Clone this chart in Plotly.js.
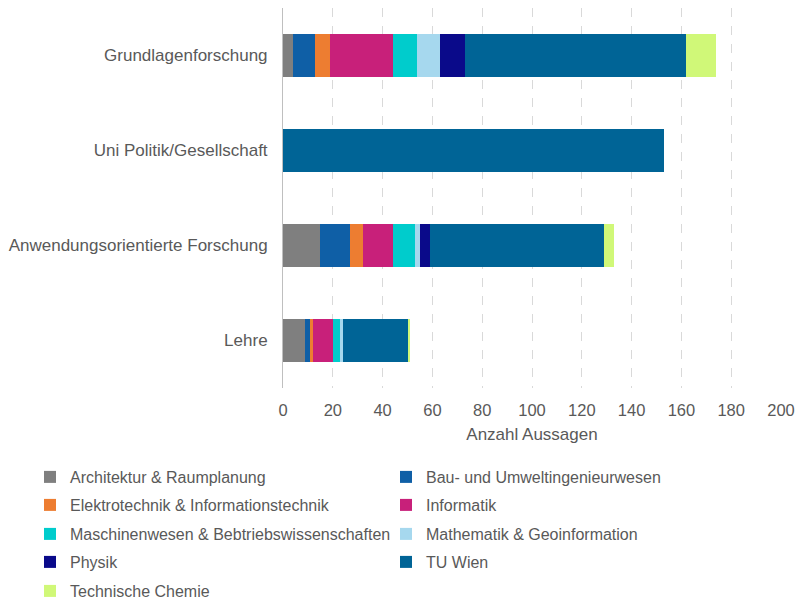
<!DOCTYPE html>
<html>
<head>
<meta charset="utf-8">
<script src="https://cdn.plot.ly/plotly-3.0.1.min.js"></script>
<style>html,body{margin:0;padding:0;background:#fff;}#chart{width:797px;height:601px;}</style>
</head>
<body>
<div id="chart"></div>
<script>
const categories = ["Grundlagenforschung", "Uni Politik/Gesellschaft", "Anwendungsorientierte Forschung", "Lehre"];

const architektur   = [4, 0, 15, 9];
const bau           = [9, 0, 12, 2];
const elektro       = [6, 0, 5, 1];
const informatik    = [25, 0, 12, 8];
const maschinen     = [10, 0, 9, 3];
const mathematik    = [9, 0, 2, 1];
const physik        = [10, 0, 4, 0];
const tuwien        = [89, 153, 70, 26];
const chemie        = [12, 0, 4, 1];

const seriesNames = [
  "Architektur & Raumplanung", "Bau- und Umweltingenieurwesen",
  "Elektrotechnik & Informationstechnik", "Informatik",
  "Maschinenwesen & Bebtriebswissenschaften", "Mathematik & Geoinformation",
  "Physik", "TU Wien", "Technische Chemie"
];
const seriesValues = [architektur, bau, elektro, informatik, maschinen, mathematik, physik, tuwien, chemie];
const seriesColors = ["#7f7f7f", "#0f5fa6", "#ed7d31", "#c8207a", "#00cccc", "#a6d8ee", "#0a0a8a", "#006496", "#d0f878"];
const legendIds = ["legend", "legend", "legend2", "legend2", "legend3", "legend3", "legend4", "legend4", "legend5"];

const traces = seriesNames.map((name, i) => ({
  type: "bar",
  orientation: "h",
  name: name,
  y: categories,
  x: seriesValues[i],
  marker: {color: seriesColors[i]},
  legend: legendIds[i],
  hoverinfo: "x+name"
}));

const textColor = "#595959";
const fam = "Liberation Sans, Arial, sans-serif";
const font = {family: fam, size: 17, color: textColor};
const legendFont = {family: fam, size: 16, color: textColor};
const tickFontX = {family: fam, size: 16.5, color: textColor};
const plotLeft = 283, plotRight = 781, plotTop = 8, plotBottom = 388;
const rowY = [477, 505, 534, 562, 591];
function mkLegend(py) {
  return {
    orientation: "h",
    xref: "paper", yref: "paper",
    x: (30 - plotLeft) / (plotRight - plotLeft), xanchor: "left",
    y: (plotBottom - py) / (plotBottom - plotTop), yanchor: "middle",
    entrywidth: 311, entrywidthmode: "pixels",
    font: legendFont,
    bgcolor: "rgba(0,0,0,0)",
    traceorder: "normal"
  };
}

const layout = {
  width: 797, height: 601,
  margin: {l: plotLeft, r: 797 - plotRight, t: plotTop, b: 601 - plotBottom, autoexpand: false},
  paper_bgcolor: "#fff", plot_bgcolor: "#fff",
  font: font,
  barmode: "stack",
  bargap: 0.55,
  showlegend: true,
  legend: mkLegend(rowY[0]),
  legend2: mkLegend(rowY[1]),
  legend3: mkLegend(rowY[2]),
  legend4: mkLegend(rowY[3]),
  legend5: mkLegend(rowY[4]),
  xaxis: {
    range: [0, 200],
    dtick: 20,
    showgrid: true,
    gridcolor: "#d9d9d9",
    griddash: "dash",
    gridwidth: 1,
    zeroline: false,
    showline: false,
    ticks: "",
    ticklabelstandoff: 10,
    tickfont: tickFontX,
    title: {text: "Anzahl Aussagen", font: font, standoff: 10}
  },
  yaxis: {
    autorange: "reversed",
    showline: true,
    linecolor: "#bfbfbf",
    linewidth: 1,
    ticks: "",
    ticklabelstandoff: 11,
    tickfont: font,
    showgrid: false
  }
};

Plotly.newPlot("chart", traces, layout, {displayModeBar: false, staticPlot: true});
</script>
</body>
</html>
